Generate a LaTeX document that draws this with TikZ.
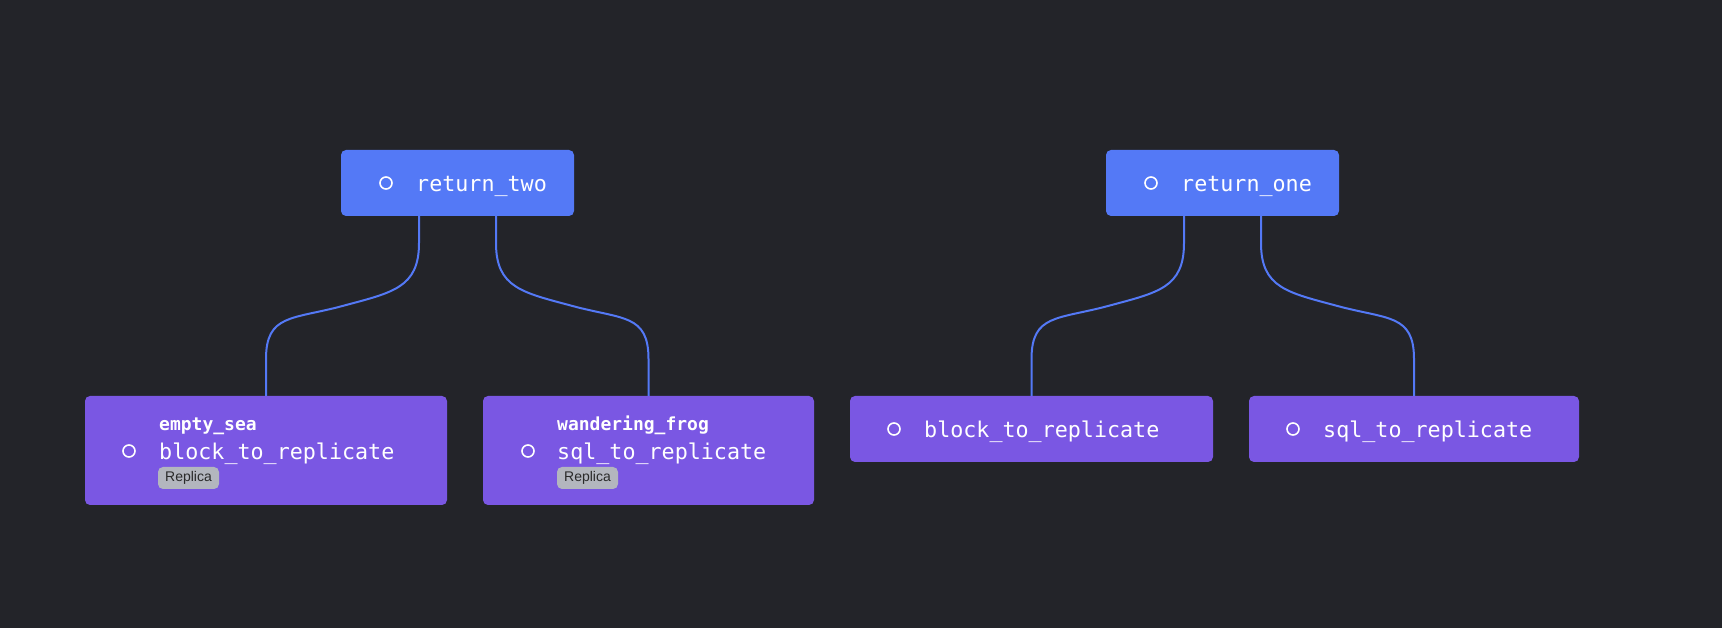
\documentclass[tikz,border=0pt]{standalone}
\usepackage{fontspec}
\newfontfamily\monof{DejaVu Sans Mono}
\newfontfamily\badgef{Liberation Sans}
\definecolor{bgc}{HTML}{232429}
\definecolor{bluec}{HTML}{5479F6}
\definecolor{purplec}{HTML}{7A57E3}
\definecolor{badgec}{HTML}{B3B6BE}
\definecolor{badgetxt}{HTML}{2A2A2A}
\tikzset{
  topbox/.style={fill=bluec, rounded corners=5pt, inner sep=0pt, outer sep=0pt, minimum width=233pt, minimum height=66pt},
  opbox/.style={fill=purplec, rounded corners=5pt, inner sep=0pt, outer sep=0pt},
  dotc/.style={circle, draw=white, line width=1.6pt, inner sep=0pt, minimum size=12pt},
  lbl/.style={text=white, font=\monof\fontsize{21.7}{24}\selectfont, inner sep=0pt, anchor=base west},
  sublbl/.style={text=white, font=\monof\bfseries\fontsize{18}{20}\selectfont, inner sep=0pt, anchor=base west},
  badge/.style={fill=badgec, rounded corners=5pt, inner sep=0pt, minimum width=61pt, minimum height=22pt, text=badgetxt, font=\badgef\fontsize{14}{16}\selectfont},
  edge/.style={draw=bluec, line width=2pt}
}
\begin{document}
\begin{tikzpicture}[x=1pt,y=1pt]
\fill[bgc] (0,0) rectangle (1722,628);
\useasboundingbox (0,0) rectangle (1722,628);
% top nodes
\node[topbox] (rt) at (457.5,445) {};
\node[dotc] (rtd) at (386,445) {};
\node[lbl] (rtt) at (416,436.5) {return\_two};
\node[topbox] (ro) at (1222.5,445) {};
\node[dotc] (rod) at (1151,445) {};
\node[lbl] (rot) at (1181,436.5) {return\_one};
% bottom nodes
\node[opbox, minimum width=362pt, minimum height=109pt] (es) at (266,177.5) {};
\node[dotc] (esd) at (129,177) {};
\node[sublbl] (ess) at (159,197) {empty\_sea};
\node[lbl] (est) at (159,168.5) {block\_to\_replicate};
\node[badge] (esb) at (188.5,150) {Replica};
\node[opbox, minimum width=331pt, minimum height=109pt] (wf) at (648.5,177.5) {};
\node[dotc] (wfd) at (528,177) {};
\node[sublbl] (wfs) at (557,197) {wandering\_frog};
\node[lbl] (wft) at (557,168.5) {sql\_to\_replicate};
\node[badge] (wfb) at (587.5,150) {Replica};
\node[opbox, minimum width=363pt, minimum height=66pt] (br) at (1031.5,199) {};
\node[dotc] (brd) at (894,199) {};
\node[lbl] (brt) at (924,190.5) {block\_to\_replicate};
\node[opbox, minimum width=330pt, minimum height=66pt] (sr) at (1414,199) {};
\node[dotc] (srd) at (1293,199) {};
\node[lbl] (srt) at (1323,190.5) {sql\_to\_replicate};
% edges
\draw[edge] ([xshift=-38.5pt]rt.south) -- ++(0,-27)
  .. controls +(0,-45) and +(50,13.5) .. ([xshift=76.5pt,yshift=90pt]es.north)
  .. controls +(-50,-13.5) and +(0,45) .. ([yshift=37pt]es.north) -- (es.north);
\draw[edge] ([xshift=38.5pt]rt.south) -- ++(0,-27)
  .. controls +(0,-45) and +(-50,13.5) .. ([xshift=-76pt,yshift=90pt]wf.north)
  .. controls +(50,-13.5) and +(0,45) .. ([yshift=37pt]wf.north) -- (wf.north);
\draw[edge] ([xshift=-38.5pt]ro.south) -- ++(0,-27)
  .. controls +(0,-45) and +(50,13.5) .. ([xshift=76.5pt,yshift=90pt]br.north)
  .. controls +(-50,-13.5) and +(0,45) .. ([yshift=37pt]br.north) -- (br.north);
\draw[edge] ([xshift=38.5pt]ro.south) -- ++(0,-27)
  .. controls +(0,-45) and +(-50,13.5) .. ([xshift=-76.5pt,yshift=90pt]sr.north)
  .. controls +(50,-13.5) and +(0,45) .. ([yshift=37pt]sr.north) -- (sr.north);
\end{tikzpicture}
\end{document}
